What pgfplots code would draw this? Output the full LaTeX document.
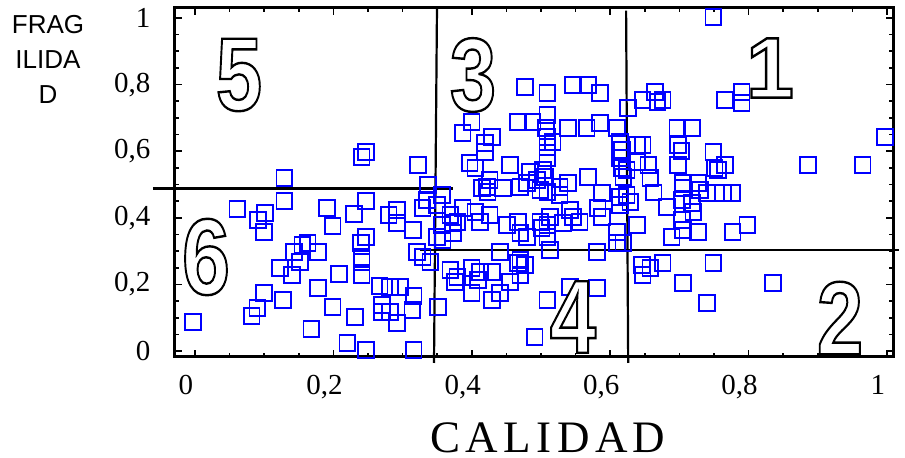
\documentclass[border=0pt]{standalone}
\usepackage{pgfplots}
\pgfplotsset{compat=1.18}
\usepackage{graphicx}
\usepackage{fontspec}
\setmainfont{Liberation Serif}
\newfontfamily\sansf{Liberation Sans}
\newfontfamily\capf[LetterSpace=12]{Liberation Serif}
\newcommand\bignum[3]{{\fontsize{#2}{#2}\sansf\bfseries\scalebox{#3}[1]{\special{pdf:literal direct 1 g 0 G 2 Tr 2.4 w}#1\special{pdf:literal direct 0 g 0 G 0 Tr}}}}

\pgfplotstableread{
x y
0.010 0.087
0.074 0.426
0.142 0.520
0.142 0.450
0.104 0.393
0.114 0.414
0.113 0.357
0.095 0.105
0.103 0.129
0.113 0.174
0.140 0.153
0.136 0.249
0.153 0.228
0.156 0.297
0.165 0.267
0.168 0.318
0.176 0.324
0.191 0.297
0.181 0.066
0.191 0.189
0.204 0.429
0.212 0.375
0.212 0.132
0.221 0.231
0.233 0.024
0.243 0.411
0.244 0.102
0.254 0.583
0.260 0.598
0.260 0.450
0.260 0.342
0.253 0.324
0.254 0.282
0.254 0.267
0.254 0.228
0.260 0.003
0.280 0.195
0.295 0.192
0.309 0.192
0.283 0.138
0.283 0.117
0.295 0.117
0.305 0.084
0.293 0.408
0.305 0.423
0.305 0.384
0.329 0.165
0.327 0.123
0.329 0.003
0.335 0.559
0.328 0.363
0.334 0.297
0.413 0.688
0.400 0.655
0.480 0.688
0.501 0.688
0.522 0.709
0.442 0.643
0.432 0.625
0.432 0.598
0.410 0.565
0.418 0.550
0.468 0.559
0.439 0.514
0.428 0.489
0.435 0.492
0.458 0.489
0.483 0.492
0.497 0.538
0.507 0.514
0.519 0.523
0.512 0.483
0.522 0.477
0.493 0.505
0.350 0.498
0.370 0.468
0.348 0.453
0.363 0.438
0.342 0.429
0.400 0.429
0.418 0.417
0.382 0.408
0.392 0.387
0.439 0.408
0.425 0.387
0.370 0.378
0.363 0.342
0.371 0.333
0.386 0.354
0.464 0.378
0.480 0.387
0.493 0.342
0.512 0.387
0.522 0.342
0.454 0.297
0.483 0.273
0.526 0.303
0.483 0.354
0.514 0.369
0.386 0.384
0.342 0.282
0.353 0.267
0.436 0.477
0.490 0.793
0.522 0.643
0.530 0.628
0.522 0.613
0.522 0.580
0.516 0.544
0.522 0.775
0.559 0.799
0.581 0.799
0.598 0.775
0.639 0.730
0.660 0.754
0.678 0.778
0.681 0.748
0.689 0.754
0.520 0.670
0.552 0.670
0.579 0.670
0.598 0.685
0.623 0.670
0.627 0.628
0.630 0.604
0.652 0.619
0.660 0.619
0.627 0.580
0.652 0.568
0.630 0.550
0.637 0.544
0.668 0.559
0.632 0.523
0.671 0.520
0.710 0.670
0.716 0.601
0.581 0.523
0.540 0.492
0.552 0.505
0.540 0.468
0.601 0.474
0.627 0.462
0.637 0.468
0.642 0.447
0.676 0.476
0.695 0.432
0.627 0.438
0.595 0.429
0.555 0.423
0.559 0.402
0.569 0.387
0.526 0.402
0.522 0.378
0.545 0.384
0.601 0.402
0.623 0.357
0.623 0.324
0.632 0.324
0.652 0.378
0.702 0.342
0.594 0.297
0.762 1.003
0.779 0.754
0.803 0.778
0.803 0.745
0.731 0.670
0.711 0.619
0.762 0.598
0.764 0.550
0.779 0.559
0.769 0.544
0.711 0.559
0.718 0.489
0.743 0.483
0.753 0.474
0.776 0.474
0.789 0.474
0.717 0.453
0.731 0.444
0.733 0.417
0.717 0.393
0.718 0.363
0.740 0.357
0.790 0.357
0.811 0.378
0.899 0.559
0.978 0.559
1.010 0.643
0.718 0.505
0.740 0.505
0.689 0.264
0.671 0.249
0.762 0.264
0.718 0.204
0.753 0.144
0.848 0.204
0.382 0.243
0.389 0.207
0.392 0.222
0.413 0.249
0.425 0.237
0.413 0.174
0.422 0.213
0.442 0.237
0.442 0.153
0.454 0.174
0.468 0.207
0.480 0.264
0.490 0.258
0.483 0.228
0.364 0.132
0.504 0.042
0.522 0.153
0.555 0.192
0.594 0.189
0.659 0.258
0.660 0.228
}\pts

\begin{document}
\begin{tikzpicture}
\useasboundingbox (-175bp,-101bp) rectangle (730bp,357bp);
\begin{axis}[
  at={(0,0)}, anchor=south west,
  width=718bp, height=349bp, scale only axis,
  xmin=-0.0159, xmax=1.0217, ymin=-0.018, ymax=1.030,
  axis line style={line width=3bp},
  tick align=inside,
  xtick={0.013,0.213,0.413,0.613,0.813,1.013},
  xticklabels={0,{0,2},{0,4},{0,6},{0,8},1},
  ytick={0,0.2,0.4,0.6,0.8,1},
  yticklabels={0,{0,2},{0,4},{0,6},{0,8},1},
  minor x tick num=3, minor y tick num=3,
  major tick length=7bp, minor tick length=4bp,
  every tick/.style={black, line width=1.6bp},
  ticklabel style={font=\fontsize{29bp}{29bp}\selectfont},
  xticklabel style={xshift=-9bp, yshift=-15bp},
  yticklabel style={xshift=-21bp},
  clip=false,
]
\addplot[only marks, mark=square, mark size=7.8bp, color={rgb,255:red,0;green,0;blue,255}, mark options={line width=1.8bp}] table[x=x,y=y] {\pts};
\addplot[black, line width=2.2bp, no marks] coordinates {(0.3627,1.030) (0.3584,-0.036)};
\addplot[black, line width=2.2bp, no marks] coordinates {(0.636,1.022) (0.639,-0.036)};
\addplot[black, line width=2.2bp, no marks] coordinates {(-0.048,0.488) (0.386,0.488)};
\addplot[black, line width=2.2bp, no marks] coordinates {(0.338,0.303) (1.03,0.303)};
\end{axis}
\node[inner sep=0] at (64bp,282bp) {\bignum{5}{104bp}{0.8}};
\node[inner sep=0] at (298bp,282bp) {\bignum{3}{104bp}{0.8}};
\node[inner sep=0] at (595bp,289bp) {\bignum{1}{86bp}{1.0}};
\node[inner sep=0] at (31bp,100bp) {\bignum{6}{108bp}{0.8}};
\node[inner sep=0] at (398bp,40bp) {\bignum{4}{104bp}{0.8}};
\node[inner sep=0] at (665bp,39bp) {\bignum{2}{104bp}{0.8}};
\node[align=center, font=\sansf\fontsize{26bp}{35bp}\selectfont] at (-127bp,298bp) {FRAG\\ILIDA\\D};
\node[inner sep=0, font=\capf\fontsize{45bp}{45bp}\selectfont] at (373bp,-81bp) {CALIDAD};
\end{tikzpicture}
\end{document}
